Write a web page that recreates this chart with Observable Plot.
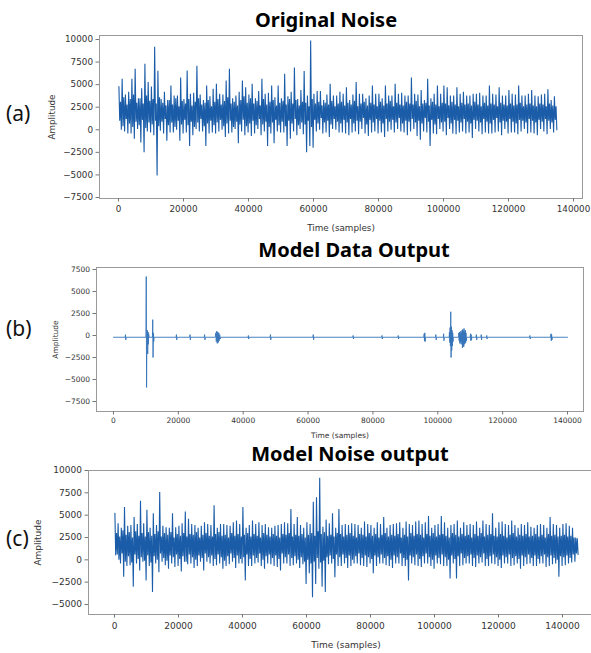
<!DOCTYPE html>
<html><head><meta charset="utf-8">
<script src="https://cdn.jsdelivr.net/npm/d3@7"></script>
<script src="https://cdn.jsdelivr.net/npm/@observablehq/plot@0.6"></script>
<style>
body{margin:0;background:#fff;}
#root{position:relative;width:591px;height:653px;overflow:hidden;font-family:"Noto Sans",sans-serif;background:#fff;}
.title{position:absolute;font-weight:700;font-size:20px;color:#000;white-space:nowrap;transform:translate(-50%,-50%);line-height:1;}
.plabel{position:absolute;font-size:21px;color:#111;transform:translateY(-50%);line-height:1;}
svg{position:absolute;left:0;}
</style></head><body><div id="root"></div>
<script>
// ---- data ----
const BIN = 1000; // samples per bin: outer peak, inner low, inner high, outer trough
const xTicks = [0, 20000, 40000, 60000, 80000, 100000, 120000, 140000];
const yTicksA = [-7500, -5000, -2500, 0, 2500, 5000, 7500, 10000];
const yTicksB = [-7500, -5000, -2500, 0, 2500, 5000, 7500];
const yTicksC = [-5000, -2500, 0, 2500, 5000, 7500, 10000];

// (a) Original Noise
const aPeaks = [
4800,5650,3900,4200,5650,6750,3500,4600,7300,5300,
4800,9200,6550,3400,4200,3300,4900,3800,3800,5800,
3400,6570,4000,4100,7100,3900,3300,4900,3700,4540,
5100,4000,3900,5450,6750,3500,3800,4200,5450,4700,
3900,5100,3500,4300,5650,4000,4100,4900,3600,4900,
3500,6200,3700,4200,6900,3400,4400,6500,3800,9900,
4000,4300,4300,3300,3900,5100,3800,3800,4200,4000,
4700,3300,3900,5300,4000,4000,3500,3800,4900,4000,
4000,3500,4900,3800,3800,5100,4000,4100,3800,3800,
5800,4000,3900,4400,3300,5650,3500,4000,4900,4000,
4900,4700,3800,3800,4700,4000,4200,3800,3800,4000,
4000,4100,3800,3800,4900,4000,3900,4700,3800,3800,
4400,4000,3900,4900,3800,3800,4000,4400,3800,3700,
3900,4000,4500,3300,3700];
const aTroughs = [
0,-200,-400,-400,-1000,100,-1400,-2500,-200,-300,
-600,-5050,-100,-400,-1200,-300,-300,0,-1200,-400,
-300,-1800,-600,100,-200,-200,-1800,-400,-300,-400,
-200,0,-800,-400,-300,100,-1500,-200,-600,-300,
-700,-400,100,-600,-200,-1800,-400,-1500,-200,-300,
-300,-1800,-1000,-200,-600,100,-500,-2500,-1800,-2000,
-200,0,-400,-300,-800,100,0,-300,-300,-400,
-600,-300,-200,-500,100,-400,-700,-300,-200,-400,
-300,-800,-200,0,-300,100,-200,-300,-600,-200,
100,-700,-1100,-200,-300,-1800,-400,-500,100,-200,
-600,100,-400,-500,-300,-200,-400,-300,-900,100,
-200,-500,-300,-400,-400,-300,-200,-600,100,-400,
-300,-300,-500,-200,100,-400,-300,-400,-600,100,
-200,-500,100,-300,0];
const aInnerHi = [
3100,3600,2800,3400,3900,3000,3500,2900,3800,3200,
3400,2900,3600,3000,2700,3300,2800,3500,2600,3200,
2900,3400,2700,3100,3500,2800,3000,3300,2600,3100,
3400,2800,3200,3600,2900,3100,2700,3300,3700,3000,
3500,2900,3200,2700,3400,2800,3100,3300,2700,3000,
3200,2800,3400,2900,3300,2700,3100,3000,2600,3400,
2900,3100,2700,3000,2800,3200,2600,2900,3100,2700,
3000,2800,3200,2600,2900,3100,2700,3000,2800,2600,
3100,2700,2900,3200,2600,3000,2800,2700,3100,2900,
2800,3200,2600,2900,3000,2700,3100,2800,2600,3000,
2900,2700,3100,2800,2600,3000,2800,2900,2700,3100,
2800,2600,3000,2700,2900,2800,2600,3000,2800,2700,
2900,2700,2800,3000,2600,2800,2900,2700,2600,2900,
2800,2600,2900,2700,2600];
const aInnerLo = [
1000,400,1200,700,300,900,500,1100,200,800,
600,1000,400,900,1200,500,800,300,1000,600,
1100,500,900,300,800,1200,400,700,1000,500,
800,1100,400,700,1000,300,900,600,1100,400,
700,1000,500,1200,600,900,300,800,1100,500,
900,400,1000,700,1200,500,800,600,1000,300,
1100,700,1300,800,1000,600,1200,900,700,1100,
800,1200,700,1000,900,1300,600,1100,800,1200,
1000,700,1200,900,1100,800,1300,700,1000,900,
1200,800,1000,700,1300,900,1100,600,1200,800,
900,1300,700,1100,1000,800,1200,900,700,1100,
1000,800,1200,900,700,1100,1300,800,1000,900,
1200,900,700,1100,1000,800,1200,1000,800,1100,
900,1200,1000,800,1100];

// (b) Model Data Output: time and amplitude
const bTime = [
0,
3600,3700,3800,3900,
10000,10100,10200,10300,10450,10550,10650,10750,10850,10950,
12000,12100,12200,12300,12400,12500,
19300,19400,19500,19600,
23500,23600,23700,23800,
28000,28100,28200,28300,
31400,31550,31700,31850,32000,32150,32300,32450,32600,32750,32900,33050,
41500,41600,41700,41800,
48300,48400,48500,48600,
61500,61600,61700,61800,
73800,73900,74000,74100,
82700,82800,82900,83000,
87700,87800,87900,88000,
95700,95800,95900,96000,96100,96200,
99300,99400,99500,99600,
101700,101800,101900,102000,
103500,103600,103700,103800,103900,104000,104100,104200,104300,104400,104500,104600,104700,104800,
106400,106500,106600,106700,106800,106900,107000,107100,107200,107300,107400,107500,107600,107700,107800,107900,108000,108100,108200,108300,108400,108500,108600,108700,108800,108900,
110000,110100,110200,110300,110400,110500,
111800,111900,112000,112100,
113300,113400,113500,113600,
115000,115100,115200,115300,
128300,128400,128500,128600,
134800,134900,135000,135100,135200,135300,
140000];
const bAmp = [
-200,
-200,100,-500,-200,
-200,6700,-5900,-200,600,-2100,400,-1000,200,-200,
-200,1800,-2500,300,-700,-200,
-200,100,-500,-200,
-200,100,-500,-200,
-200,100,-500,-200,
-200,300,-700,500,-900,400,-800,300,-600,100,-400,-200,
-200,0,-400,-200,
-200,100,-500,-200,
-200,100,-500,-200,
-200,0,-400,-200,
-200,0,-400,-200,
-200,0,-400,-200,
-200,200,-600,300,-700,-200,
-200,100,-500,-200,
-200,200,-600,-200,
-200,400,-800,900,-1200,2700,-2500,1000,-1700,600,-1200,300,-700,-200,
-200,300,-600,400,-900,200,-700,500,-1000,300,-800,600,-1400,700,-1100,500,-1300,800,-1000,400,-900,600,-800,300,-600,-200,
-200,200,-600,100,-500,-200,
-200,100,-500,-200,
-200,100,-500,-200,
-200,0,-400,-200,
-200,0,-400,-200,
-200,200,-600,100,-500,-200,
-200];

// (c) Model Noise output
const cPeaks = [
5200,4100,3600,5900,3800,3900,4800,4000,6600,4100,
5600,3600,5200,3900,7600,3800,3650,3600,5200,3650,
3800,4100,5400,4600,4000,3900,3600,3800,4200,4000,
3900,6100,3600,4000,4000,3900,3800,4200,4400,4000,
5900,3600,3900,4400,4000,4200,3900,4000,3650,3600,
3800,3900,4000,4200,4100,5700,4000,4800,3900,3600,
4200,4000,6500,7000,9200,3700,4500,4100,5200,3600,
5700,3900,4000,3900,4100,4000,3900,3600,4300,4000,
3900,3600,4200,4000,4800,3600,3900,4000,4100,4200,
3600,4300,4000,3900,4300,4400,4000,4200,4900,3600,
3900,4000,4900,4200,3600,3900,4000,4400,3600,4200,
3900,4000,3900,4300,3600,4400,4000,3900,5200,3600,
4200,4300,4000,3900,4400,3900,3600,4000,3900,4200,
3700,3600,3900,4000,3900,3600,4800,4000,3900,3600,
4000,4100,3800,3600,2500];
const cTroughs = [
600,-400,-1900,-700,-600,-3000,-400,-1200,-200,-2300,
-700,-3600,-400,-1400,-200,-600,-1000,-400,-800,-700,
-1300,-200,-500,-400,-900,-700,-200,-1200,-200,-400,
-700,-600,-400,-1000,-700,-500,-200,-900,-400,-400,
-2300,-700,-700,-400,-300,-700,-1000,-400,-500,-700,
-800,-1200,-400,-400,-700,-600,-400,-900,-500,-2700,
-1500,-4200,-2700,-1000,-3000,-3600,-500,-400,-1950,-700,
-700,-400,-900,-700,-400,-400,-600,-700,-800,-400,
-1500,-700,-400,-400,-600,-700,-900,-400,-400,-700,
-700,-2300,-400,-600,-700,-800,-400,-400,-700,-1000,
-400,-500,-700,-700,-2100,-400,-2100,-700,-600,-400,
-400,-700,-800,-400,-300,-700,-700,-400,-500,-700,
-900,-400,-400,-700,-600,-400,-1000,-700,-500,-400,
-700,-700,-400,-400,-800,-700,-500,-400,-1900,-700,
-600,-400,-300,-200,600];
const cInnerHi = [
3000,2600,3300,2800,3100,2500,3200,2700,3000,2600,
3100,2700,2900,3200,2600,3000,2800,3100,2500,2900,
2700,3000,2600,2900,2800,3100,2500,2800,3000,2700,
2600,2900,3100,2700,2800,2500,3000,2700,2900,2600,
2800,3000,2600,2900,2700,2500,3000,2800,2600,2900,
2700,2500,2900,2800,3000,2600,2800,2700,2900,2500,
2800,3000,2700,3200,2900,3100,2700,2800,2600,3000,
2900,2600,2800,3000,2700,2500,2900,2800,2600,3000,
2700,2900,2500,2800,3000,2600,2800,2700,2900,2500,
2800,2600,3000,2700,2900,2800,2500,2900,2700,3000,
2600,2800,2900,2700,2500,3000,2800,2600,2900,2700,
2800,2500,2900,2700,3000,2600,2800,2900,2700,2600,
2900,2700,2500,2800,3000,2600,2800,2700,2900,2600,
2700,2900,2600,2800,2500,2900,2700,2800,2600,2700,
2800,2600,2700,2500,2400];
const cInnerLo = [
500,0,700,-200,400,-300,600,100,300,-100,
500,-300,400,0,700,200,-100,500,300,600,
100,400,-200,600,300,0,500,200,700,300,
500,100,600,300,-100,400,700,200,500,100,
300,600,100,500,200,700,0,400,600,200,
500,100,700,300,600,200,400,0,300,-200,
0,-400,-200,200,-300,-100,300,500,100,600,
300,600,200,500,0,400,700,200,500,300,
100,500,300,600,200,400,0,500,300,700,
200,0,500,300,600,100,400,700,300,0,
500,200,600,300,0,500,100,400,700,200,
400,600,200,500,300,700,100,400,600,300,
0,500,300,600,200,400,100,500,300,600,
200,500,100,400,600,300,500,200,0,400,
300,500,200,600,700];

// ---- helpers ----
function quad(peaks, lo, hi, troughs, bin) {
  const out = [];
  peaks.forEach((p, i) => {
    const t0 = i * bin;
    out.push({t: t0 + bin * 0.125, v: p});
    out.push({t: t0 + bin * 0.375, v: lo[i]});
    out.push({t: t0 + bin * 0.625, v: hi[i]});
    out.push({t: t0 + bin * 0.875, v: troughs[i]});
  });
  return out;
}
const fmt = d => String(d).replace("-", "\u2212");
const root = document.getElementById("root");

function addText(cls, text, x, y) {
  const d = document.createElement("div");
  d.className = cls; d.textContent = text;
  d.style.left = x + "px"; d.style.top = y + "px";
  root.appendChild(d);
}

function panel(cfg) {
  const svg = Plot.plot({
    width: 591, height: cfg.height,
    marginLeft: cfg.ml, marginRight: cfg.mr, marginTop: cfg.mt, marginBottom: cfg.mb,
    style: {background: "transparent", fontFamily: "'DejaVu Sans', sans-serif", fontSize: cfg.fs + "px", color: "#333", overflow: "visible"},
    x: {domain: cfg.xd},
    y: {domain: cfg.yd},
    marks: [
      Plot.line(cfg.data, {x: "t", y: "v", stroke: cfg.stroke, strokeWidth: cfg.sw, strokeLinejoin: "miter"}),
      Plot.frame({stroke: "#9a9a9a", strokeWidth: 1}),
      Plot.axisX({ticks: xTicks, tickFormat: fmt, tickSize: 3.5, tickPadding: cfg.xpad, stroke: "#777", fill: "#333",
        label: "Time (samples)", labelAnchor: "center", labelArrow: "none", labelOffset: cfg.xlo}),
      Plot.axisY({ticks: cfg.yTicks, tickFormat: fmt, tickSize: 3.5, tickPadding: 3, stroke: "#777", fill: "#333",
        label: "Amplitude", labelAnchor: "center", labelArrow: "none", labelOffset: cfg.ylo})
    ]
  });
  svg.style.top = cfg.top + "px";
  root.appendChild(svg);
}

// ---- panel (a) ----
addText("title", "Original Noise", 326, 20);
addText("plabel", "(a)", 6, 113);
panel({top: 30, height: 202, ml: 99, mr: 9, mt: 5, mb: 34, fs: 8.8,
  xd: [-5846, 142769], yd: [-7611, 10443], yTicks: yTicksA,
  data: quad(aPeaks, aInnerLo, aInnerHi, aTroughs, BIN),
  stroke: "#1a5ca8", sw: 1.1, xpad: 4, xlo: 32, ylo: 51});

// ---- panel (b) ----
addText("title", "Model Data Output", 354, 250);
addText("plabel", "(b)", 6, 328);
panel({top: 262, height: 181, ml: 96, mr: 8, mt: 5, mb: 32, fs: 7.5,
  xd: [-5242, 144934], yd: [-8636, 7727], yTicks: yTicksB,
  data: bTime.map((t, i) => ({t, v: bAmp[i]})), stroke: "#3474b9", sw: 0.9, xpad: 3, xlo: 26, ylo: 44});

// ---- panel (c) ----
addText("title", "Model Noise output", 350, 454);
addText("plabel", "(c)", 6, 538);
panel({top: 465, height: 188, ml: 88, mr: -12, mt: 5, mb: 39, fs: 9,
  xd: [-8125, 152812], yd: [-6120, 10000], yTicks: yTicksC,
  data: quad(cPeaks, cInnerLo, cInnerHi, cTroughs, BIN),
  stroke: "#1a5ca8", sw: 1.1, xpad: 4.5, xlo: 33, ylo: 54});
</script></body></html>
